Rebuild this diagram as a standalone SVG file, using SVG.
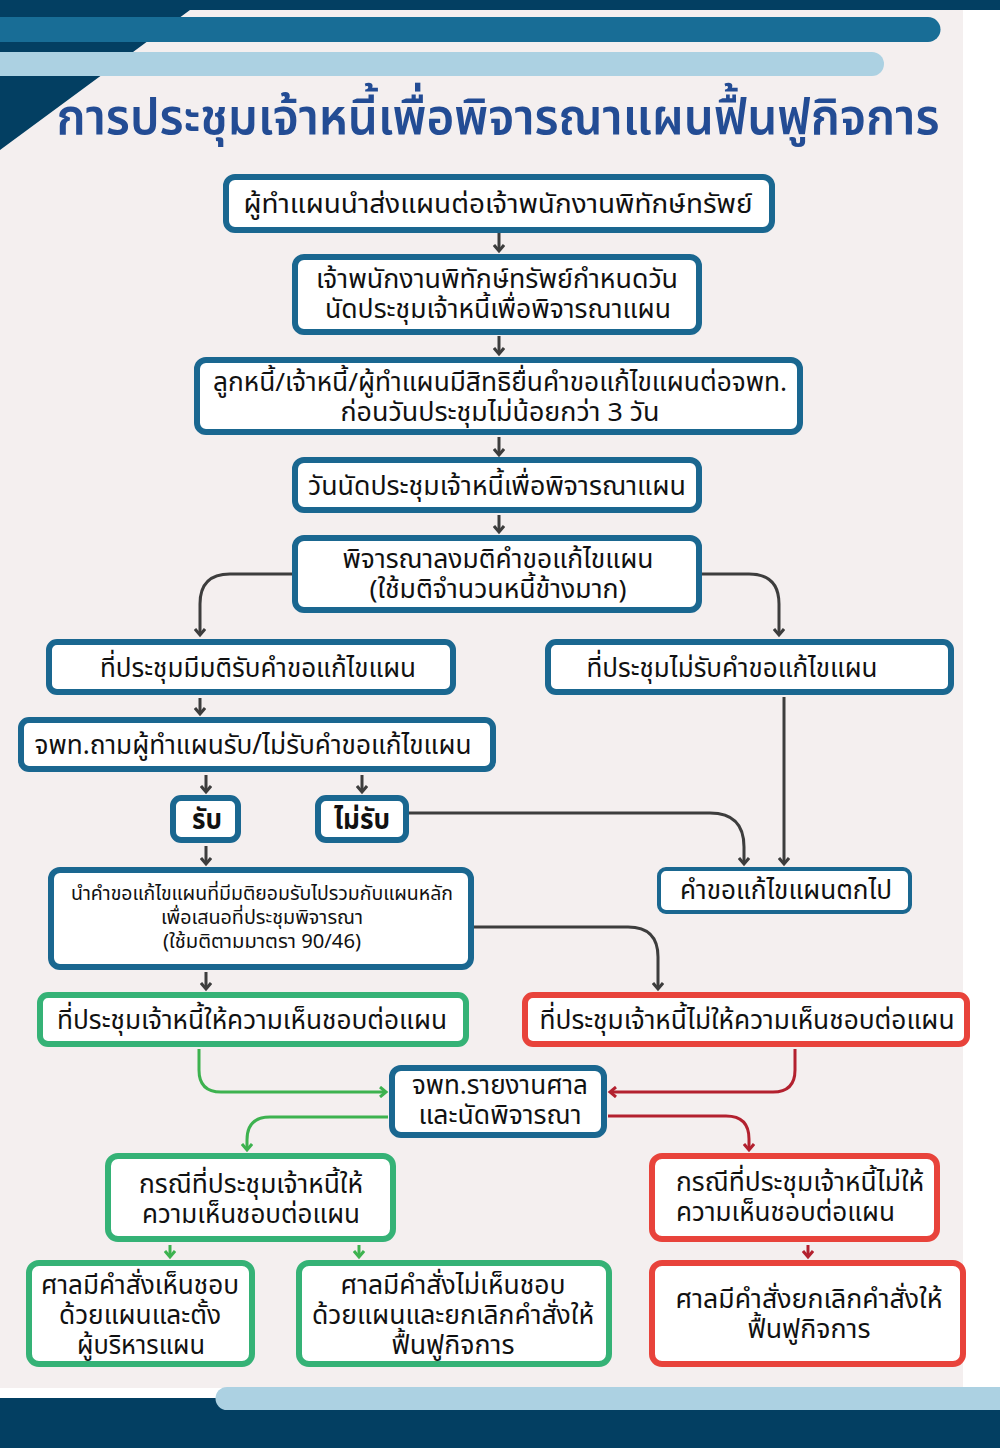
<svg xmlns="http://www.w3.org/2000/svg" width="1000" height="1448" viewBox="0 0 1000 1448">
<defs>
<style>
text{font-family:"Noto Sans Thai","Noto Sans Thai UI","Noto Sans","DejaVu Sans",sans-serif;fill:#111;font-size:26px;text-anchor:middle}
.b{fill:#fff;stroke:#1a6790;stroke-width:6}
.g{fill:#fff;stroke:#35b276;stroke-width:6}
.r{fill:#fff;stroke:#e8433b;stroke-width:6}
.ck{fill:none;stroke:#3d3d3d;stroke-width:3}
.cg{fill:none;stroke:#3db24f;stroke-width:3}
.cr{fill:none;stroke:#b3212f;stroke-width:3}
.one{font-size:27px}
.bold{font-weight:bold;font-size:29px}
.sm{font-size:19px}
</style>
<marker id="ak" markerWidth="12" markerHeight="12" refX="9" refY="6" orient="auto" markerUnits="userSpaceOnUse"><path d="M3,1 L9,6 L3,11" fill="none" stroke="#3d3d3d" stroke-width="3"/></marker>
<marker id="ag" markerWidth="12" markerHeight="12" refX="9" refY="6" orient="auto" markerUnits="userSpaceOnUse"><path d="M3,1 L9,6 L3,11" fill="none" stroke="#3db24f" stroke-width="3"/></marker>
<marker id="ar" markerWidth="12" markerHeight="12" refX="9" refY="6" orient="auto" markerUnits="userSpaceOnUse"><path d="M3,1 L9,6 L3,11" fill="none" stroke="#b3212f" stroke-width="3"/></marker>
</defs>
<g id="background">
<rect x="0" y="0" width="1000" height="1448" fill="#ffffff"/>
<rect x="0" y="0" width="963" height="1388" fill="#f4efef"/>
<path d="M0,0 H1000 V10 H190 L0,150 Z" fill="#033f62"/>
<path d="M0,17 H928 A12.5,12.5 0 0 1 928,42 H0 Z" fill="#186d96"/>
<path d="M0,52 H872 A12,12 0 0 1 872,76 H0 Z" fill="#acd1e2"/>
<rect x="0" y="1398" width="1000" height="50" fill="#033f62"/>
<path d="M227,1387 H1000 V1410 H227 A11.5,11.5 0 0 1 227,1387 Z" fill="#acd1e2"/>
</g>
<g id="title"><text x="498" y="134" style="font-size:50px;font-weight:600;fill:#234c94" textLength="883" lengthAdjust="spacingAndGlyphs">การประชุมเจ้าหนี้เพื่อพิจารณาแผนฟื้นฟูกิจการ</text></g>
<g id="connectors">
<path class="ck" marker-end="url(#ak)" d="M499,233 V251"/>
<path class="ck" marker-end="url(#ak)" d="M499,336 V354"/>
<path class="ck" marker-end="url(#ak)" d="M499,437 V455"/>
<path class="ck" marker-end="url(#ak)" d="M499,515 V532"/>
<path class="ck" marker-end="url(#ak)" d="M292,574 H230 Q200,574 200,604 V635"/>
<path class="ck" marker-end="url(#ak)" d="M701,574 H749 Q779,574 779,604 V635"/>
<path class="ck" marker-end="url(#ak)" d="M200,698 V714"/>
<path class="ck" marker-end="url(#ak)" d="M206,775 V792"/>
<path class="ck" marker-end="url(#ak)" d="M362,775 V792"/>
<path class="ck" marker-end="url(#ak)" d="M206,846 V864"/>
<path class="ck" marker-end="url(#ak)" d="M409,813 H710 Q744,813 744,847 V864"/>
<path class="ck" marker-end="url(#ak)" d="M784,697 V864"/>
<path class="ck" marker-end="url(#ak)" d="M206,972 V989"/>
<path class="ck" marker-end="url(#ak)" d="M474,927 H628 Q658,927 658,957 V989"/>
<path class="cg" marker-end="url(#ag)" d="M199,1049 V1070 Q199,1092 221,1092 H386"/>
<path class="cr" marker-end="url(#ar)" d="M795,1049 V1070 Q795,1092 773,1092 H610"/>
<path class="cg" marker-end="url(#ag)" d="M388,1117 H270 Q247,1117 247,1140 V1150"/>
<path class="cr" marker-end="url(#ar)" d="M608,1116 H726 Q749,1116 749,1139 V1150"/>
<path class="cg" marker-end="url(#ag)" d="M170,1245 V1257"/>
<path class="cg" marker-end="url(#ag)" d="M359,1245 V1257"/>
<path class="cr" marker-end="url(#ar)" d="M808,1245 V1257"/>
</g>
<g id="n1"><rect class="b" x="226" y="177" width="546" height="53" rx="9"/><text x="498" y="213" class="one" textLength="509" lengthAdjust="spacingAndGlyphs">ผู้ทำแผนนำส่งแผนต่อเจ้าพนักงานพิทักษ์ทรัพย์</text></g>
<g id="n2"><rect class="b" x="295" y="257" width="404" height="75" rx="9"/><text x="497" y="288" textLength="362" lengthAdjust="spacingAndGlyphs">เจ้าพนักงานพิทักษ์ทรัพย์กำหนดวัน</text><text x="498" y="318" textLength="346" lengthAdjust="spacingAndGlyphs">นัดประชุมเจ้าหนี้เพื่อพิจารณาแผน</text></g>
<g id="n3"><rect class="b" x="197" y="360" width="603" height="72" rx="9"/><text x="500" y="391" textLength="574" lengthAdjust="spacingAndGlyphs">ลูกหนี้/เจ้าหนี้/ผู้ทำแผนมีสิทธิยื่นคำขอแก้ไขแผนต่อจพท.</text><text x="500" y="421" textLength="319" lengthAdjust="spacingAndGlyphs">ก่อนวันประชุมไม่น้อยกว่า 3 วัน</text></g>
<g id="n4"><rect class="b" x="295" y="460" width="404" height="50" rx="9"/><text x="497" y="495" class="one" textLength="378" lengthAdjust="spacingAndGlyphs">วันนัดประชุมเจ้าหนี้เพื่อพิจารณาแผน</text></g>
<g id="n5"><rect class="b" x="295" y="538" width="404" height="72" rx="9"/><text x="498" y="568" textLength="311" lengthAdjust="spacingAndGlyphs">พิจารณาลงมติคำขอแก้ไขแผน</text><text x="498" y="598" textLength="257" lengthAdjust="spacingAndGlyphs">(ใช้มติจำนวนหนี้ข้างมาก)</text></g>
<g id="n6"><rect class="b" x="49" y="642" width="404" height="50" rx="8"/><text x="258" y="677" class="one" textLength="316" lengthAdjust="spacingAndGlyphs">ที่ประชุมมีมติรับคำขอแก้ไขแผน</text></g>
<g id="n7"><rect class="b" x="548" y="642" width="403" height="50" rx="8"/><text x="732" y="677" class="one" textLength="291" lengthAdjust="spacingAndGlyphs">ที่ประชุมไม่รับคำขอแก้ไขแผน</text></g>
<g id="n8"><rect class="b" x="21" y="720" width="472" height="49" rx="8"/><text x="253" y="754" class="one" textLength="437" lengthAdjust="spacingAndGlyphs">จพท.ถามผู้ทำแผนรับ/ไม่รับคำขอแก้ไขแผน</text></g>
<g id="n9"><rect class="b" x="173" y="798" width="65" height="42" rx="8"/><text x="207" y="829" class="bold" textLength="30" lengthAdjust="spacingAndGlyphs">รับ</text></g>
<g id="n10"><rect class="b" x="318" y="798" width="88" height="42" rx="8"/><text x="362" y="829" class="bold" textLength="56" lengthAdjust="spacingAndGlyphs">ไม่รับ</text></g>
<g id="n11"><rect class="b" x="659" y="869" width="251" height="43" rx="7" style="stroke-width:4"/><text x="786" y="899" class="one" textLength="212" lengthAdjust="spacingAndGlyphs">คำขอแก้ไขแผนตกไป</text></g>
<g id="n12"><rect class="b" x="51" y="870" width="420" height="97" rx="9"/><text x="262" y="900" class="sm" textLength="382" lengthAdjust="spacingAndGlyphs">นำคำขอแก้ไขแผนที่มีมติยอมรับไปรวมกับแผนหลัก</text><text x="262" y="924" class="sm" textLength="202" lengthAdjust="spacingAndGlyphs">เพื่อเสนอที่ประชุมพิจารณา</text><text x="262" y="948" class="sm" textLength="198" lengthAdjust="spacingAndGlyphs">(ใช้มติตามมาตรา 90/46)</text></g>
<g id="n13"><rect class="g" x="40" y="995" width="426" height="49" rx="8"/><text x="252" y="1029" class="one" textLength="390" lengthAdjust="spacingAndGlyphs">ที่ประชุมเจ้าหนี้ให้ความเห็นชอบต่อแผน</text></g>
<g id="n14"><rect class="r" x="525" y="995" width="442" height="49" rx="8"/><text x="747" y="1029" class="one" textLength="415" lengthAdjust="spacingAndGlyphs">ที่ประชุมเจ้าหนี้ไม่ให้ความเห็นชอบต่อแผน</text></g>
<g id="n15"><rect class="b" x="392" y="1068" width="212" height="67" rx="9"/><text x="500" y="1094" textLength="176" lengthAdjust="spacingAndGlyphs">จพท.รายงานศาล</text><text x="500" y="1124" textLength="163" lengthAdjust="spacingAndGlyphs">และนัดพิจารณา</text></g>
<g id="n16"><rect class="g" x="108" y="1156" width="285" height="83" rx="10"/><text x="251" y="1193" textLength="224" lengthAdjust="spacingAndGlyphs">กรณีที่ประชุมเจ้าหนี้ให้</text><text x="251" y="1223" textLength="218" lengthAdjust="spacingAndGlyphs">ความเห็นชอบต่อแผน</text></g>
<g id="n17"><rect class="r" x="652" y="1156" width="285" height="83" rx="10"/><text x="676" y="1191" style="text-anchor:start" textLength="248" lengthAdjust="spacingAndGlyphs">กรณีที่ประชุมเจ้าหนี้ไม่ให้</text><text x="676" y="1221" style="text-anchor:start" textLength="219" lengthAdjust="spacingAndGlyphs">ความเห็นชอบต่อแผน</text></g>
<g id="n18"><rect class="g" x="29" y="1263" width="223" height="101" rx="10"/><text x="140" y="1294" textLength="198" lengthAdjust="spacingAndGlyphs">ศาลมีคำสั่งเห็นชอบ</text><text x="140" y="1324" textLength="162" lengthAdjust="spacingAndGlyphs">ด้วยแผนและตั้ง</text><text x="141" y="1354" textLength="128" lengthAdjust="spacingAndGlyphs">ผู้บริหารแผน</text></g>
<g id="n19"><rect class="g" x="299" y="1263" width="310" height="101" rx="10"/><text x="453" y="1294" textLength="225" lengthAdjust="spacingAndGlyphs">ศาลมีคำสั่งไม่เห็นชอบ</text><text x="453" y="1324" textLength="282" lengthAdjust="spacingAndGlyphs">ด้วยแผนและยกเลิกคำสั่งให้</text><text x="453" y="1354" textLength="123" lengthAdjust="spacingAndGlyphs">ฟื้นฟูกิจการ</text></g>
<g id="n20"><rect class="r" x="652" y="1263" width="311" height="101" rx="10"/><text x="809" y="1308" textLength="267" lengthAdjust="spacingAndGlyphs">ศาลมีคำสั่งยกเลิกคำสั่งให้</text><text x="809" y="1338" textLength="123" lengthAdjust="spacingAndGlyphs">ฟื้นฟูกิจการ</text></g>
</svg>
